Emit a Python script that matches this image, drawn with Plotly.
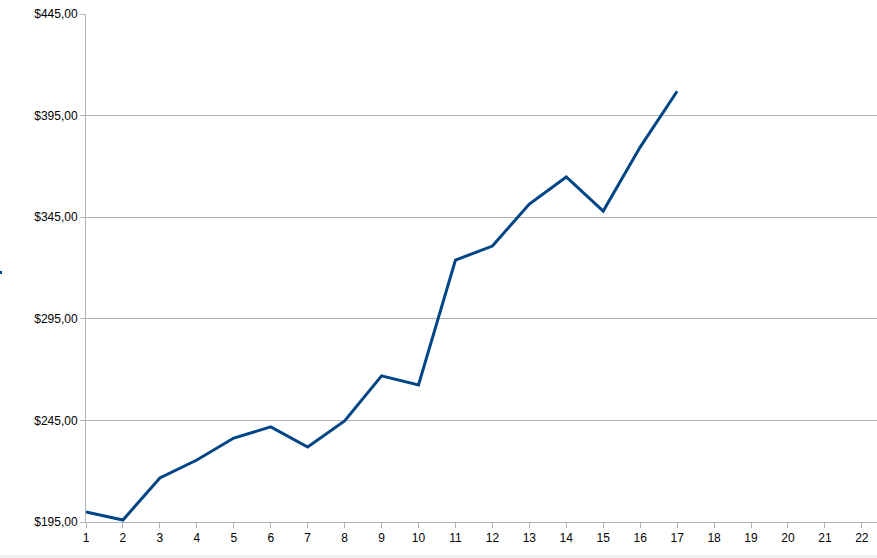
import plotly.graph_objects as go

categories = [str(i) for i in range(1, 23)]
x_points = [str(i) for i in range(1, 18)]
values = [200.0, 196.0, 216.7, 225.5, 236.3, 241.8, 231.9, 244.7, 266.9, 262.4,
          323.9, 330.8, 351.5, 364.8, 348.0, 379.5, 407.0]
y_ticks = [195, 245, 295, 345, 395, 445]
y_labels = ["$195,00", "$245,00", "$295,00", "$345,00", "$395,00", "$445,00"]

x_index = [categories.index(c) + 1 for c in x_points]

fig = go.Figure()
fig.add_trace(go.Scatter(
    x=x_index, y=values, mode="lines",
    line=dict(color="#004586", width=3),
    showlegend=False, hoverinfo="skip",
))

fig.update_layout(
    width=877, height=558,
    margin=dict(l=86, r=0, t=14, b=36),
    paper_bgcolor="white", plot_bgcolor="white",
    font=dict(family="Liberation Sans, Arial, sans-serif", size=12, color="black"),
    xaxis=dict(
        range=[1, 22.41], tickmode="array",
        tickvals=list(range(1, 23)), ticktext=categories,
        showgrid=False, zeroline=False,
        showline=True, linecolor="#b3b3b3", linewidth=1,
        ticks="outside", ticklen=5, tickcolor="#b3b3b3",
        tickfont=dict(size=12, color="black"),
    ),
    yaxis=dict(
        range=[195, 445], tickmode="array",
        tickvals=y_ticks, ticktext=y_labels,
        showgrid=True, gridcolor="#b3b3b3", gridwidth=1,
        zeroline=False,
        showline=True, linecolor="#b3b3b3", linewidth=1,
        ticks="outside", ticklen=5, tickcolor="#b3b3b3",
        tickfont=dict(size=12, color="black"),
    ),
    shapes=[
        dict(type="rect", xref="paper", yref="paper",
             x0=-86/791, x1=1, y0=-36/508, y1=-33/508,
             fillcolor="#eeeeee", line=dict(width=0), layer="below"),
        dict(type="rect", xref="paper", yref="paper",
             x0=-86/791, x1=-84/791, y0=(522-274)/508, y1=(522-271)/508,
             fillcolor="#004586", line=dict(width=0)),
    ],
)

fig.write_html(
    "out.html",
    config={"displayModeBar": False},
    post_script="document.body.style.margin='0px';document.body.style.overflow='hidden';",
)
